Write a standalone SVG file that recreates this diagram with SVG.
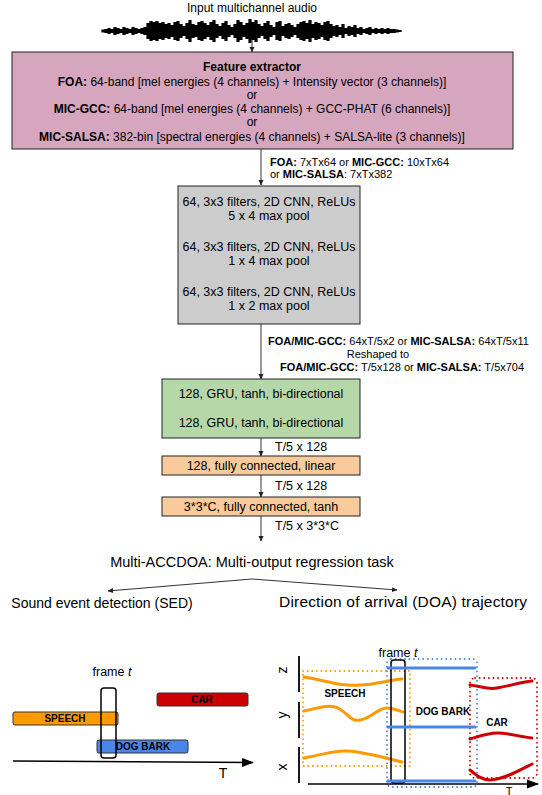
<svg xmlns="http://www.w3.org/2000/svg" width="542" height="795" viewBox="0 0 542 795">
<style>
text{font-family:"Liberation Sans",Arial,sans-serif;fill:#000}
.t12{font-size:12px}
.t125{font-size:12.5px}
.t11{font-size:11px}
.t14{font-size:14px}
.b{font-weight:bold}
.lbl{font-size:10px;font-weight:bold}
.box{stroke:#222;stroke-width:1}
.conn{stroke:#333;stroke-width:1;fill:none}
.bar{stroke:#333;stroke-width:1}
.thick{fill:none;stroke-width:3;stroke-linecap:round}
.dot{fill:none;stroke-width:1.8;stroke-dasharray:0.1 4.5;stroke-linecap:round}
</style>
<defs>
<marker id="ah" markerWidth="6" markerHeight="6" refX="5" refY="3" orient="auto" markerUnits="userSpaceOnUse"><path d="M0,0.5 L5.5,3 L0,5.5 Z" fill="#222"/></marker>
<marker id="ahBig" markerWidth="12" markerHeight="10" refX="11" refY="5" orient="auto" markerUnits="userSpaceOnUse"><path d="M0,0.5 L12,5 L0,9.5 Z" fill="#000"/></marker>
</defs>

<g id="input">
<text class="t12" x="252" y="12" text-anchor="middle">Input multichannel audio</text>
<path fill="none" stroke="#000" stroke-width="3.2" d="M103,29.5V32.5 M106,29V33 M109,28V34 M112,29V33 M115,27V35 M118,28V34 M121,29V33 M124,27V35 M127,28V34 M130,29V33 M133,27V35 M136,28V34 M139,29V33 M142,28V34 M145,27V35 M148,23V39 M151,21V41 M154,22V40 M157,21V41 M160,23V39 M163,22V40 M166,24V38 M169,23V39 M172,25V37 M175,22V40 M178,21V41 M181,24V38 M184,26V36 M187,23V39 M190,20V42 M193,24V38 M196,25V37 M199,22V40 M202,21V41 M205,23V39 M208,25V37 M211,22V40 M214,20V42 M217,24V38 M220,26V36 M223,23V39 M226,21V41 M229,25V37 M232,27V35 M235,24V38 M238,20V42 M241,22V40 M244,25V37 M247,23V39 M250,19V43 M253,22V40 M256,20V42 M259,24V38 M262,26V36 M265,23V39 M268,21V41 M271,25V37 M274,27V35 M277,22V40 M280,21V41 M283,26V36 M286,24V38 M289,23V39 M292,25V37 M295,27V35 M298,24V38 M301,22V40 M304,21V41 M307,23V39 M310,20V42 M313,24V38 M316,22V40 M319,23V39 M322,25V37 M325,22V40 M328,21V41 M331,24V38 M334,26V36 M337,25V37 M340,27V35 M343,24V38 M346,28V34 M349,26V36 M352,27V35 M355,25V37 M358,28V34 M361,27V35 M364,29V33 M367,28V34 M370,27V35 M373,29V33 M376,28V34 M379,29V33 M382,28V34 M385,29V33 M388,28V34 M391,29V33 M394,29V33 M397,29.5V32.5 M400,30V32"/>
</g>

<g id="connectors">
<line class="conn" x1="252" y1="40" x2="252" y2="52" marker-end="url(#ah)"/>
<line class="conn" x1="261" y1="149" x2="261" y2="185" marker-end="url(#ah)"/>
<line class="conn" x1="261" y1="324" x2="261" y2="379" marker-end="url(#ah)"/>
<line class="conn" x1="261" y1="438" x2="261" y2="456" marker-end="url(#ah)"/>
<line class="conn" x1="261" y1="475" x2="261" y2="497" marker-end="url(#ah)"/>
<line class="conn" x1="261" y1="516" x2="261" y2="541" marker-end="url(#ah)"/>
<line class="conn" x1="252" y1="579" x2="108" y2="591" marker-end="url(#ah)"/>
<line class="conn" x1="252" y1="579" x2="397" y2="590" marker-end="url(#ah)"/>
</g>

<g id="feature-extractor">
<rect class="box" x="12" y="52" width="501" height="97" fill="#d5a6bd"/>
<text class="t12 b" x="252" y="71" text-anchor="middle">Feature extractor</text>
<text class="t12" x="252" y="86" text-anchor="middle"><tspan class="b">FOA:</tspan> 64-band [mel energies (4 channels) + Intensity vector (3 channels)]</text>
<text class="t12" x="252" y="99" text-anchor="middle">or</text>
<text class="t12" x="252" y="113" text-anchor="middle"><tspan class="b">MIC-GCC:</tspan> 64-band [mel energies (4 channels) + GCC-PHAT (6 channels)]</text>
<text class="t12" x="252" y="126" text-anchor="middle">or</text>
<text class="t12" x="252" y="141" text-anchor="middle"><tspan class="b">MIC-SALSA:</tspan> 382-bin [spectral energies (4 channels) + SALSA-lite (3 channels)]</text>
</g>

<g id="label-features">
<text class="t11" x="270" y="166"><tspan class="b">FOA:</tspan> 7xTx64 or <tspan class="b">MIC-GCC:</tspan> 10xTx64</text>
<text class="t11" x="270" y="178">or <tspan class="b">MIC-SALSA</tspan>: 7xTx382</text>
</g>

<g id="cnn">
<rect class="box" x="178" y="186" width="182" height="138" fill="#cccccc"/>
<text class="t125" x="269" y="206" text-anchor="middle">64, 3x3 filters, 2D CNN, ReLUs</text>
<text class="t125" x="269" y="220" text-anchor="middle">5 x 4 max pool</text>
<text class="t125" x="269" y="251" text-anchor="middle">64, 3x3 filters, 2D CNN, ReLUs</text>
<text class="t125" x="269" y="265" text-anchor="middle">1 x 4 max pool</text>
<text class="t125" x="269" y="296" text-anchor="middle">64, 3x3 filters, 2D CNN, ReLUs</text>
<text class="t125" x="269" y="310" text-anchor="middle">1 x 2 max pool</text>
</g>

<g id="label-cnn">
<text class="t11" x="268" y="345"><tspan class="b">FOA/MIC-GCC:</tspan> 64xT/5x2 or <tspan class="b">MIC-SALSA:</tspan> 64xT/5x11</text>
<text class="t11" x="378" y="358" text-anchor="middle">Reshaped to</text>
<text class="t11" x="280" y="371"><tspan class="b">FOA/MIC-GCC:</tspan> T/5x128 or <tspan class="b">MIC-SALSA:</tspan> T/5x704</text>
</g>

<g id="gru">
<rect class="box" x="162" y="379" width="198" height="59" fill="#b6d7a8"/>
<text class="t125" x="261" y="398" text-anchor="middle">128, GRU, tanh, bi-directional</text>
<text class="t125" x="261" y="427" text-anchor="middle">128, GRU, tanh, bi-directional</text>
</g>
<text class="t125" x="275" y="451">T/5 x 128</text>

<g id="fc1">
<rect class="box" x="162" y="456" width="198" height="19" fill="#f9cb9c"/>
<text class="t125" x="261" y="470" text-anchor="middle">128, fully connected, linear</text>
</g>
<text class="t125" x="275" y="490">T/5 x 128</text>

<g id="fc2">
<rect class="box" x="162" y="497" width="198" height="19" fill="#f9cb9c"/>
<text class="t125" x="261" y="511" text-anchor="middle">3*3*C, fully connected, tanh</text>
</g>
<text class="t125" x="275" y="530">T/5 x 3*3*C</text>

<g id="output">
<text x="252" y="567" text-anchor="middle" font-size="14.5">Multi-ACCDOA: Multi-output regression task</text>
<text class="t14" x="102" y="608" text-anchor="middle">Sound event detection (SED)</text>
<text x="279" y="607" font-size="15.5" textLength="248" lengthAdjust="spacing">Direction of arrival (DOA) trajectory</text>
</g>

<g id="sed">
<text class="t125" x="112" y="676" text-anchor="middle">frame <tspan font-style="italic">t</tspan></text>
<rect class="bar" x="157" y="693" width="91" height="13" rx="2" fill="#cc0000"/>
<text class="lbl" x="202" y="703" text-anchor="middle">CAR</text>
<rect class="bar" x="13" y="712" width="105" height="13" rx="2" fill="#ff9900"/>
<text class="lbl" x="65" y="722" text-anchor="middle">SPEECH</text>
<rect class="bar" x="97" y="740" width="91" height="13" rx="2" fill="#4a86e8"/>
<text class="lbl" x="143" y="750" text-anchor="middle">DOG BARK</text>
<rect x="101" y="688" width="15" height="70" rx="3" fill="none" stroke="#000" stroke-width="1.5"/>
<line x1="13" y1="761" x2="253" y2="762.5" stroke="#000" stroke-width="1.5" marker-end="url(#ahBig)"/>
<text class="t14" x="223" y="778" text-anchor="middle">T</text>
</g>

<g id="doa">
<text class="t125" x="398" y="657" text-anchor="middle">frame <tspan font-style="italic">t</tspan></text>
<text class="t14" transform="translate(287,670) rotate(-90)" text-anchor="middle">z</text>
<text class="t14" transform="translate(287,715) rotate(-90)" text-anchor="middle">y</text>
<text class="t14" transform="translate(287,767) rotate(-90)" text-anchor="middle">x</text>
<path d="M299,656V692 M299,702V738 M299,747V783" stroke="#000" stroke-width="1.8"/>
<rect class="dot" x="303" y="671" width="107" height="95" stroke="#ff9900"/>
<rect class="dot" x="387" y="659" width="90" height="128" rx="4" stroke="#4a86e8"/>
<rect class="dot" x="470" y="678" width="67" height="100" rx="5" stroke="#cc0000"/>
<path class="thick" stroke="#ff9900" d="M304,677 C325,680 340,687 360,685 C378,684 390,680 402,679"/>
<path class="thick" stroke="#ff9900" d="M304,711 C318,708 330,704 338,708 C348,713 350,722 360,720 C372,718 378,707 388,708 C396,709 400,711 403,712"/>
<path class="thick" stroke="#ff9900" d="M304,758 C320,755 335,750 348,751 C365,752 385,758 402,762"/>
<rect x="391" y="660" width="14" height="123" rx="3" fill="none" stroke="#000" stroke-width="1.5"/>
<path class="thick" stroke="#4a86e8" stroke-linecap="butt" d="M388,668H475 M388,727H475 M388,781H475"/>
<path class="thick" stroke="#cc0000" d="M470,685 C480,686 488,690 497,688 C510,686 520,682 532,681"/>
<path class="thick" stroke="#cc0000" d="M470,739 C480,736 488,733 497,733 C510,733 520,737 532,738"/>
<path class="thick" stroke="#cc0000" d="M470,770 C476,775 482,780 490,780 C505,779 520,770 532,764"/>
<text class="lbl" x="345" y="697" text-anchor="middle">SPEECH</text>
<text class="lbl" x="443" y="715" text-anchor="middle">DOG BARK</text>
<text class="lbl" x="497" y="726" text-anchor="middle">CAR</text>
<line x1="308" y1="784" x2="538" y2="784" stroke="#000" stroke-width="1.5" marker-end="url(#ahBig)"/>
<text x="509" y="794.5" font-size="11" text-anchor="middle">T</text>
</g>
</svg>
